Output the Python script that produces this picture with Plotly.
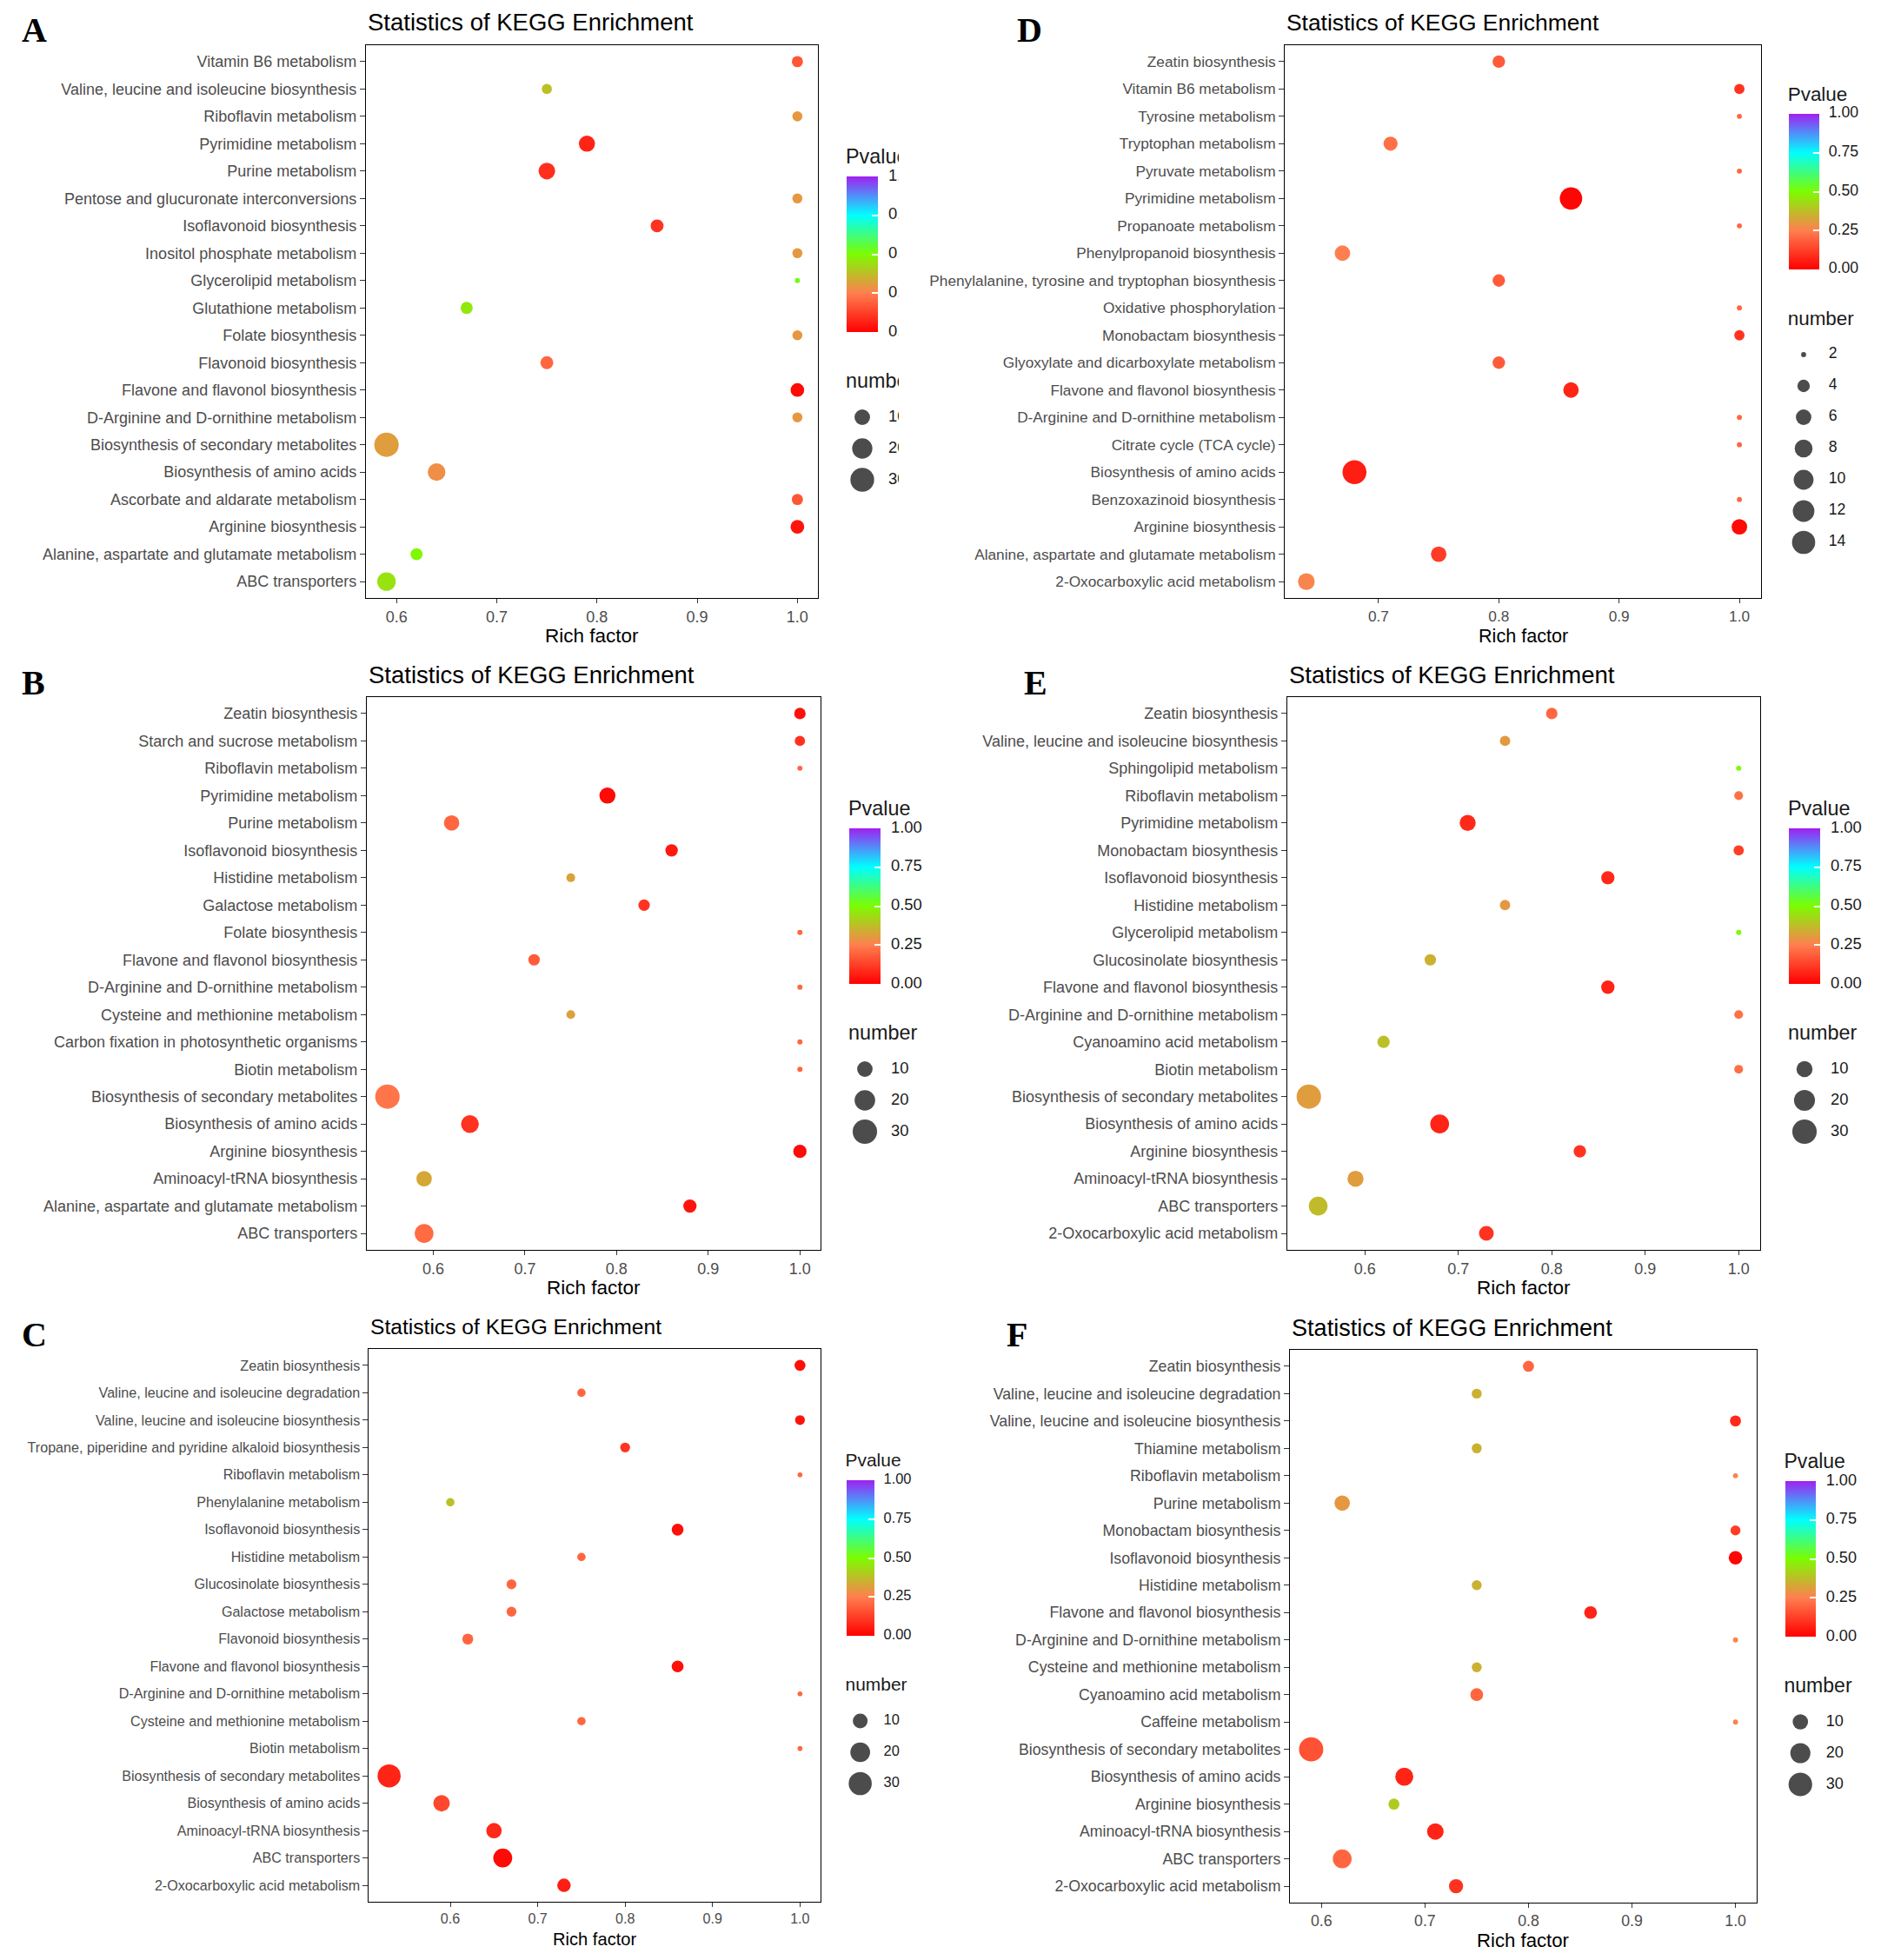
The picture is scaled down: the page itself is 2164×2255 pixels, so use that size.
"""KEGG enrichment bubble plots (6 panels A-F) rebuilt in plotly."""
import numpy as np
import plotly.graph_objects as go

W, H = 2164, 2255

# ---------------- data (top -> bottom order) ----------------
a_terms = ["Vitamin B6 metabolism", "Valine, leucine and isoleucine biosynthesis", "Riboflavin metabolism",
           "Pyrimidine metabolism", "Purine metabolism", "Pentose and glucuronate interconversions",
           "Isoflavonoid biosynthesis", "Inositol phosphate metabolism", "Glycerolipid metabolism",
           "Glutathione metabolism", "Folate biosynthesis", "Flavonoid biosynthesis",
           "Flavone and flavonol biosynthesis", "D-Arginine and D-ornithine metabolism",
           "Biosynthesis of secondary metabolites", "Biosynthesis of amino acids",
           "Ascorbate and aldarate metabolism", "Arginine biosynthesis",
           "Alanine, aspartate and glutamate metabolism", "ABC transporters"]
a_rich = [1.0, 0.75, 1.0, 0.79, 0.75, 1.0, 0.86, 1.0, 1.0, 0.67, 1.0, 0.75, 1.0, 1.0, 0.59, 0.64, 1.0, 1.0, 0.62, 0.59]
a_num = [4, 3, 3, 11, 12, 3, 6, 3, 1, 5, 3, 6, 7, 3, 32, 14, 4, 7, 5, 16]
a_p = [0.17, 0.38, 0.30, 0.07, 0.09, 0.30, 0.10, 0.30, 0.52, 0.46, 0.30, 0.20, 0.02, 0.30, 0.31, 0.28, 0.17, 0.04, 0.49, 0.45]

b_terms = ["Zeatin biosynthesis", "Starch and sucrose metabolism", "Riboflavin metabolism",
           "Pyrimidine metabolism", "Purine metabolism", "Isoflavonoid biosynthesis", "Histidine metabolism",
           "Galactose metabolism", "Folate biosynthesis", "Flavone and flavonol biosynthesis",
           "D-Arginine and D-ornithine metabolism", "Cysteine and methionine metabolism",
           "Carbon fixation in photosynthetic organisms", "Biotin metabolism",
           "Biosynthesis of secondary metabolites", "Biosynthesis of amino acids", "Arginine biosynthesis",
           "Aminoacyl-tRNA biosynthesis", "Alanine, aspartate and glutamate metabolism", "ABC transporters"]
b_rich = [1.0, 1.0, 1.0, 0.79, 0.62, 0.86, 0.75, 0.83, 1.0, 0.71, 1.0, 0.75, 1.0, 1.0, 0.55, 0.64, 1.0, 0.59, 0.88, 0.59]
b_num = [5, 4, 2, 11, 10, 6, 3, 5, 2, 5, 2, 3, 2, 2, 30, 14, 7, 10, 7, 16]
b_p = [0.03, 0.10, 0.20, 0.02, 0.20, 0.05, 0.32, 0.10, 0.20, 0.18, 0.20, 0.32, 0.20, 0.20, 0.23, 0.10, 0.02, 0.33, 0.04, 0.21]

c_terms = ["Zeatin biosynthesis", "Valine, leucine and isoleucine degradation",
           "Valine, leucine and isoleucine biosynthesis", "Tropane, piperidine and pyridine alkaloid biosynthesis",
           "Riboflavin metabolism", "Phenylalanine metabolism", "Isoflavonoid biosynthesis",
           "Histidine metabolism", "Glucosinolate biosynthesis", "Galactose metabolism",
           "Flavonoid biosynthesis", "Flavone and flavonol biosynthesis",
           "D-Arginine and D-ornithine metabolism", "Cysteine and methionine metabolism", "Biotin metabolism",
           "Biosynthesis of secondary metabolites", "Biosynthesis of amino acids",
           "Aminoacyl-tRNA biosynthesis", "ABC transporters", "2-Oxocarboxylic acid metabolism"]
c_rich = [1.0, 0.75, 1.0, 0.80, 1.0, 0.60, 0.86, 0.75, 0.67, 0.67, 0.62, 0.86, 1.0, 0.75, 1.0, 0.53, 0.59, 0.65, 0.66, 0.73]
c_num = [5, 3, 4, 4, 2, 3, 6, 3, 4, 4, 5, 6, 2, 3, 2, 29, 13, 11, 18, 8]
c_p = [0.03, 0.20, 0.04, 0.10, 0.20, 0.38, 0.03, 0.20, 0.20, 0.20, 0.20, 0.03, 0.20, 0.20, 0.20, 0.07, 0.14, 0.08, 0.02, 0.06]

d_terms = ["Zeatin biosynthesis", "Vitamin B6 metabolism", "Tyrosine metabolism", "Tryptophan metabolism",
           "Pyruvate metabolism", "Pyrimidine metabolism", "Propanoate metabolism",
           "Phenylpropanoid biosynthesis", "Phenylalanine, tyrosine and tryptophan biosynthesis",
           "Oxidative phosphorylation", "Monobactam biosynthesis", "Glyoxylate and dicarboxylate metabolism",
           "Flavone and flavonol biosynthesis", "D-Arginine and D-ornithine metabolism",
           "Citrate cycle (TCA cycle)", "Biosynthesis of amino acids", "Benzoxazinoid biosynthesis",
           "Arginine biosynthesis", "Alanine, aspartate and glutamate metabolism",
           "2-Oxocarboxylic acid metabolism"]
d_rich = [0.80, 1.0, 1.0, 0.71, 1.0, 0.86, 1.0, 0.67, 0.80, 1.0, 1.0, 0.80, 0.86, 1.0, 1.0, 0.68, 1.0, 1.0, 0.75, 0.64]
d_num = [4, 3, 2, 5, 2, 13, 2, 6, 4, 2, 3, 4, 6, 2, 2, 15, 2, 6, 6, 7]
d_p = [0.18, 0.10, 0.20, 0.22, 0.20, 0.01, 0.20, 0.25, 0.18, 0.20, 0.10, 0.18, 0.07, 0.20, 0.20, 0.06, 0.20, 0.02, 0.12, 0.26]

e_terms = ["Zeatin biosynthesis", "Valine, leucine and isoleucine biosynthesis", "Sphingolipid metabolism",
           "Riboflavin metabolism", "Pyrimidine metabolism", "Monobactam biosynthesis",
           "Isoflavonoid biosynthesis", "Histidine metabolism", "Glycerolipid metabolism",
           "Glucosinolate biosynthesis", "Flavone and flavonol biosynthesis",
           "D-Arginine and D-ornithine metabolism", "Cyanoamino acid metabolism", "Biotin metabolism",
           "Biosynthesis of secondary metabolites", "Biosynthesis of amino acids", "Arginine biosynthesis",
           "Aminoacyl-tRNA biosynthesis", "ABC transporters", "2-Oxocarboxylic acid metabolism"]
e_rich = [0.80, 0.75, 1.0, 1.0, 0.71, 1.0, 0.86, 0.75, 1.0, 0.67, 0.86, 1.0, 0.62, 1.0, 0.54, 0.68, 0.83, 0.59, 0.55, 0.73]
e_num = [4, 3, 1, 2, 10, 3, 6, 3, 1, 4, 6, 2, 5, 2, 29, 15, 5, 10, 15, 8]
e_p = [0.20, 0.30, 0.50, 0.22, 0.08, 0.12, 0.08, 0.30, 0.50, 0.35, 0.07, 0.22, 0.38, 0.22, 0.31, 0.07, 0.10, 0.31, 0.37, 0.10]

f_terms = ["Zeatin biosynthesis", "Valine, leucine and isoleucine degradation",
           "Valine, leucine and isoleucine biosynthesis", "Thiamine metabolism", "Riboflavin metabolism",
           "Purine metabolism", "Monobactam biosynthesis", "Isoflavonoid biosynthesis", "Histidine metabolism",
           "Flavone and flavonol biosynthesis", "D-Arginine and D-ornithine metabolism",
           "Cysteine and methionine metabolism", "Cyanoamino acid metabolism", "Caffeine metabolism",
           "Biosynthesis of secondary metabolites", "Biosynthesis of amino acids", "Arginine biosynthesis",
           "Aminoacyl-tRNA biosynthesis", "ABC transporters", "2-Oxocarboxylic acid metabolism"]
f_rich = [0.80, 0.75, 1.0, 0.75, 1.0, 0.62, 1.0, 1.0, 0.75, 0.86, 1.0, 0.75, 0.75, 1.0, 0.59, 0.68, 0.67, 0.71, 0.62, 0.73]
f_num = [4, 3, 4, 3, 1, 10, 3, 7, 3, 6, 1, 3, 6, 1, 32, 15, 4, 12, 17, 8]
f_p = [0.20, 0.35, 0.08, 0.35, 0.26, 0.30, 0.12, 0.01, 0.35, 0.07, 0.26, 0.35, 0.20, 0.26, 0.16, 0.07, 0.40, 0.07, 0.20, 0.10]

size_breaks = [10, 20, 30]
size_breaks_d = [2, 4, 6, 8, 10, 12, 14]
p_ticks = [0.0, 0.25, 0.5, 0.75, 1.0]
p_ticktext = ["0.00", "0.25", "0.50", "0.75", "1.00"]
x_ticks = [0.5, 0.6, 0.7, 0.8, 0.9, 1.0]

# ---------------- style ----------------
SANS = "Liberation Sans, Arial, sans-serif"
SERIF = "Liberation Serif, Times New Roman, serif"
scale = [[0.0, "#FF0000"], [0.25, "#FF7F50"], [0.5, "#7CFC00"], [0.75, "#00FFFF"], [1.0, "#A020F0"]]

# panel boxes in figure pixels (x0, x1, y0, y1), letter centre, legend clip edge,
# sx = horizontal squeeze of that panel in the original composite
panels = [
    dict(letter="A", terms=a_terms, rich=a_rich, num=a_num, p=a_p, breaks=size_breaks,
         box=(421, 941, 52, 688), lpos=(39, 35), clip=1034, sx=1.0),
    dict(letter="B", terms=b_terms, rich=b_rich, num=b_num, p=b_p, breaks=size_breaks,
         box=(422, 944, 802, 1438), lpos=(38, 785), clip=None, sx=1.0),
    dict(letter="C", terms=c_terms, rich=c_rich, num=c_num, p=c_p, breaks=size_breaks,
         box=(424, 944, 1552, 2188), lpos=(39, 1535), clip=None, sx=0.895),
    dict(letter="D", terms=d_terms, rich=d_rich, num=d_num, p=d_p, breaks=size_breaks_d,
         box=(1478, 2026, 52, 688), lpos=(1184, 35), clip=None, sx=0.96),
    dict(letter="E", terms=e_terms, rich=e_rich, num=e_num, p=e_p, breaks=size_breaks,
         box=(1481, 2025, 802, 1438), lpos=(1191, 785), clip=None, sx=1.0),
    dict(letter="F", terms=f_terms, rich=f_rich, num=f_num, p=f_p, breaks=size_breaks,
         box=(1484, 2021, 1553, 2189), lpos=(1170, 1535), clip=None, sx=0.985),
]


def px_x(v):
    return v / W


def px_y(v):
    return 1 - v / H


def dot_size(n, lo, hi, k=1.0):
    # ggplot-like area scale: size 1..6 mapped on sqrt, then to pixel diameter
    s = 1 + 5 * np.sqrt(np.clip((np.asarray(n, float) - lo) / (hi - lo), 0, 1))
    return (4.43 * s + 1.5) * k


fig = go.Figure()
layout = dict(width=W, height=H, margin=dict(l=0, r=0, t=0, b=0),
              paper_bgcolor="white", plot_bgcolor="white", showlegend=False,
              font=dict(family=SANS, color="black"))
annotations = []

for i, pn in enumerate(panels, start=1):
    x0, x1, y0, y1 = pn["box"]
    sx = pn["sx"]
    dk = np.sqrt(sx)
    sfx = "" if i == 1 else str(i)
    lo, hi = min(pn["num"]), max(pn["num"])
    rmin, rmax = min(pn["rich"]), max(pn["rich"])
    pad = 0.05 * (rmax - rmin)
    nterm = len(pn["terms"])

    fig.add_trace(go.Scatter(
        x=pn["rich"], y=pn["terms"], mode="markers",
        marker=dict(size=dot_size(pn["num"], lo, hi, dk), color=pn["p"], coloraxis="coloraxis" + sfx,
                    line=dict(width=0), opacity=1),
        xaxis="x" + sfx, yaxis="y" + sfx, cliponaxis=False,
        hovertemplate="%{y}<br>Rich factor %{x}<br>Pvalue %{marker.color}<extra></extra>"))

    axis_common = dict(showline=True, mirror=True, linecolor="black", linewidth=1.3, showgrid=False,
                       zeroline=False, ticks="outside", tickwidth=1.2, tickcolor="#333333",
                       tickfont=dict(family=SANS, size=18 * sx, color="#4D4D4D"))
    layout["xaxis" + sfx] = dict(
        domain=[px_x(x0), px_x(x1)], anchor="y" + sfx, range=[rmin - pad, rmax + pad], ticklen=5,
        tickvals=x_ticks, ticktext=[f"{v:.1f}" for v in x_ticks], **axis_common)
    layout["yaxis" + sfx] = dict(
        domain=[px_y(y1), px_y(y0)], anchor="x" + sfx, type="category", ticklen=6 * sx,
        categoryorder="array", categoryarray=pn["terms"], range=[nterm - 0.4, -0.6], **axis_common)

    # titles
    annotations.append(dict(text="Statistics of KEGG Enrichment", xref=f"x{sfx} domain", x=0, xanchor="left",
                            yref="paper", y=px_y(y0 - 26), yanchor="middle", showarrow=False,
                            font=dict(family=SANS, size=27.5 * sx, color="black")))
    annotations.append(dict(text="Rich factor", xref=f"x{sfx} domain", x=0.5, xanchor="center",
                            yref="paper", y=px_y(y1 + 43), yanchor="middle", showarrow=False,
                            font=dict(family=SANS, size=22.5 * sx, color="black")))
    annotations.append(dict(text=f"<b>{pn['letter']}</b>", xref="paper", x=px_x(pn["lpos"][0]), xanchor="center",
                            yref="paper", y=px_y(pn["lpos"][1]), yanchor="middle", showarrow=False,
                            font=dict(family=SERIF, size=40, color="black")))

    # legend block (colour bar + size keys), vertically centred on the panel
    k = len(pn["breaks"])
    cb_len = 179
    cb_w = 36 * sx
    cb_left = x1 + 33 * sx
    centre = (y0 + y1) / 2
    cb_top = centre - (322 + 36 * (k - 1)) / 2 + 30
    key_y = [cb_top + cb_len + 98 + 36 * j for j in range(k)]

    layout["coloraxis" + sfx] = dict(
        cmin=0, cmax=1, colorscale=scale,
        colorbar=dict(x=px_x(cb_left), xanchor="left", y=px_y(cb_top), yanchor="top",
                      len=cb_len, lenmode="pixels", thickness=cb_w, thicknessmode="pixels",
                      xpad=0, ypad=0, outlinewidth=0, tickvals=p_ticks, ticks="inside",
                      ticklen=7 * sx, tickwidth=1.5, tickcolor="white", showticklabels=False))

    # legend text lives in a hidden pixel-unit subplot so panel A can be clipped like the original
    lx0, lx1 = cb_left - 12, (pn["clip"] or min(cb_left + 140, W - 1))
    ly0, ly1 = cb_top - 45, key_y[-1] + 25
    li = i + 6
    layout[f"xaxis{li}"] = dict(domain=[px_x(lx0), px_x(lx1)], range=[lx0, lx1], visible=False,
                                anchor=f"y{li}", fixedrange=True)
    layout[f"yaxis{li}"] = dict(domain=[px_y(ly1), px_y(ly0)], range=[ly1, ly0], visible=False,
                                anchor=f"x{li}", fixedrange=True)

    lab_x = cb_left + 48 * sx
    cb_lab_y = [cb_top + (1 - v) * cb_len for v in p_ticks]
    fig.add_trace(go.Scatter(
        x=[cb_left - 1] * 2 + [lab_x] * (len(p_ticks) + k),
        y=[cb_top - 21, cb_top + cb_len + 58] + cb_lab_y + key_y,
        text=["Pvalue", "number"] + p_ticktext + [str(b) for b in pn["breaks"]],
        mode="text", textposition="middle right", cliponaxis=True, hoverinfo="skip",
        textfont=dict(family=SANS, size=[23.4 * sx] * 2 + [18.4 * sx] * (len(p_ticks) + k), color="#1a1a1a"),
        xaxis=f"x{li}", yaxis=f"y{li}"))
    fig.add_trace(go.Scatter(
        x=[cb_left + 18 * sx] * k, y=key_y, mode="markers", cliponaxis=True, hoverinfo="skip",
        marker=dict(size=dot_size(pn["breaks"], lo, hi, dk), color="black", line=dict(width=0)),
        xaxis=f"x{li}", yaxis=f"y{li}"))

layout["annotations"] = annotations
fig.update_layout(**layout)
# drop the browser's default 8px body margin so figure pixels line up with the page; no modebar
fig.write_html("out.html", config={"displayModeBar": False},
               post_script="document.body.style.margin='0';")
